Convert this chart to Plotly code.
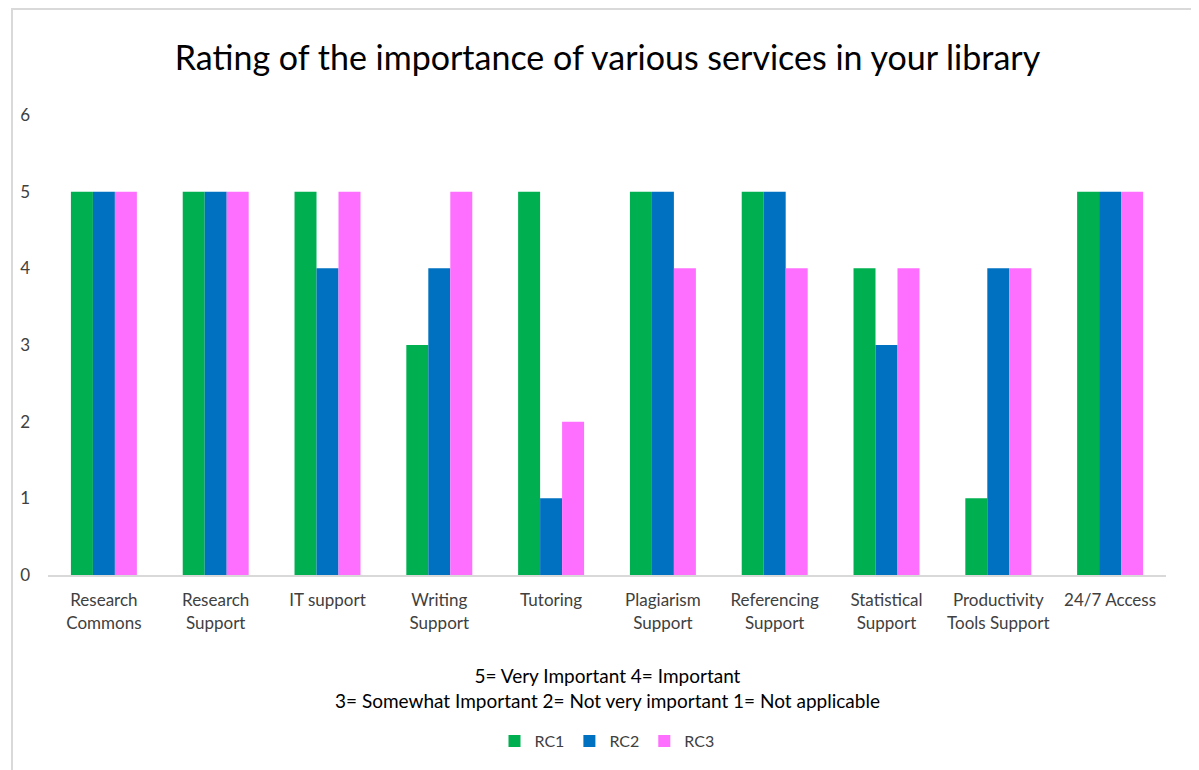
import plotly.graph_objects as go

categories = ["Research<br>Commons", "Research<br>Support", "IT support", "Writing<br>Support",
              "Tutoring", "Plagiarism<br>Support", "Referencing<br>Support", "Statistical<br>Support",
              "Productivity<br>Tools Support", "24/7 Access"]
rc1 = [5, 5, 5, 3, 5, 5, 5, 4, 1, 5]
rc2 = [5, 5, 4, 4, 1, 5, 5, 3, 4, 5]
rc3 = [5, 5, 5, 5, 2, 4, 4, 4, 4, 5]
series = [("RC1", rc1, "#00B050"), ("RC2", rc2, "#0070C0"), ("RC3", rc3, "#FF6FFF")]

FONT = "Lato, 'Open Sans', sans-serif"

fig = go.Figure()
for name, vals, col in series:
    fig.add_trace(go.Bar(x=categories, y=vals, name=name, marker=dict(color=col, line=dict(width=0))))

fig.update_layout(
    width=1199, height=770,
    paper_bgcolor="white", plot_bgcolor="white",
    barmode="group", bargap=0.41, bargroupgap=0,
    margin=dict(l=37, r=41, t=107, b=203),
    font=dict(family=FONT, size=17, color="#404040"),
    title=dict(text="Rating of the importance of various services in your library",
               x=0.5, xanchor="center", y=0.935, yanchor="middle",
               font=dict(family=FONT, size=34, color="#000000")),
    legend=dict(orientation="h", x=0.5, xanchor="center", y=-0.361, yanchor="middle",
                font=dict(size=16, color="#404040"), traceorder="normal", itemwidth=30),
    showlegend=True,
)
fig.update_xaxes(showline=True, linecolor="#D9D9D9", linewidth=2, ticks="", showgrid=False,
                 tickfont=dict(size=17, color="#404040"), ticklabelstandoff=9)
fig.update_yaxes(range=[0, 6], dtick=1, showgrid=False, zeroline=False, showline=False,
                 tickfont=dict(size=17, color="#404040"), ticklabelstandoff=17)

fig.add_annotation(text="5= Very Important 4= Important<br>3= Somewhat Important 2= Not very important 1= Not applicable",
                   xref="paper", yref="paper", x=0.5, y=-0.2457, xanchor="center", yanchor="middle",
                   showarrow=False, font=dict(size=19, color="#000000"), align="center")
fig.add_shape(type="rect", xref="paper", yref="paper", x0=-0.0322, x1=1.2, y0=-1.0, y1=1.2304,
              line=dict(color="#D9D9D9", width=2), fillcolor="rgba(0,0,0,0)", layer="below")

fig.write_html("out.html")
